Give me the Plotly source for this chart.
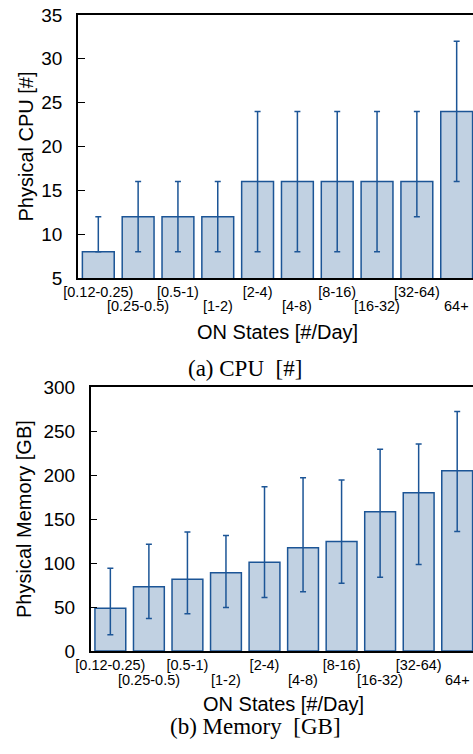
import plotly.graph_objects as go

# --- DATA ---
states = ["[0.12-0.25)", "[0.25-0.5)", "[0.5-1)", "[1-2)", "[2-4)",
          "[4-8)", "[8-16)", "[16-32)", "[32-64)", "64+"]

cpu_mid = [8, 12, 12, 12, 16, 16, 16, 16, 16, 24]
cpu_low = [8, 8, 8, 8, 8, 8, 8, 8, 12, 16]
cpu_high = [12, 16, 16, 16, 24, 24, 24, 24, 24, 32]

mem_mid = [48.5, 73, 81.5, 89, 101, 117.5, 124.5, 158.5, 180, 205]
mem_low = [18.5, 37, 42.5, 49.5, 61, 67.5, 77, 84, 98.5, 136]
mem_high = [94, 121.5, 135.5, 131.5, 187, 197, 194.5, 229.5, 235.5, 272.5]

W, H = 473, 754
FILL = "#c1d1e2"
EDGE = "#1c5596"
SANS = "Liberation Sans, Arial, sans-serif"
SERIF = "Liberation Serif, Times New Roman, serif"

pos = list(range(len(states)))
even_pos, even_lab = pos[0::2], states[0::2]
odd_pos, odd_lab = pos[1::2], states[1::2]


def bar_trace(mid, low, high, xa, ya):
    return go.Bar(
        x=pos, y=mid, width=0.8, xaxis=xa, yaxis=ya,
        marker=dict(color=FILL, line=dict(color=EDGE, width=1.5)),
        error_y=dict(type="data", symmetric=False,
                     array=[h - m for h, m in zip(high, mid)],
                     arrayminus=[m - l for m, l in zip(mid, low)],
                     color=EDGE, thickness=1.5, width=3),
        showlegend=False,
    )


fig = go.Figure()
fig.add_trace(bar_trace(cpu_mid, cpu_low, cpu_high, "x", "y"))
fig.add_trace(bar_trace(mem_mid, mem_low, mem_high, "x2", "y2"))

xr = [-0.51, 9.41]
xfont = dict(family=SANS, size=14.5, color="black")
# main x axes: frame lines + first row of labels
xcommon = dict(range=xr, tickvals=even_pos, ticktext=even_lab, ticks="",
               tickangle=0, automargin=False,
               showline=True, linecolor="black", linewidth=1.5, mirror=True,
               showgrid=False, zeroline=False, ticklabelstandoff=0,
               tickfont=xfont)
ycommon = dict(showline=True, linecolor="black", linewidth=1.5,
               ticks="inside", ticklen=7, tickcolor="black", tickwidth=1,
               showgrid=False, zeroline=False, ticklabelstandoff=10,
               automargin=False,
               tickfont=dict(family=SANS, size=19, color="black"))
# top-only tick marks at the bar centres
topticks = dict(range=xr, tickvals=pos, showticklabels=False, side="top",
                ticks="inside", ticklen=7, tickcolor="black", tickwidth=1,
                showgrid=False, zeroline=False, automargin=False)

d_top = [1 - 278 / H, 1 - 15 / H]
d_bot = [1 - 651 / H, 1 - 387.3 / H]

fig.update_layout(
    width=W, height=H,
    margin=dict(l=0, r=0, t=0, b=0),
    paper_bgcolor="white", plot_bgcolor="white",
    xaxis=dict(domain=[78 / W, 1], anchor="y", **xcommon),
    yaxis=dict(domain=d_top, anchor="x", range=[5, 35], dtick=5, **ycommon),
    xaxis2=dict(domain=[90.7 / W, 1], anchor="y2", **xcommon),
    yaxis2=dict(domain=d_bot, anchor="x2", range=[0, 300], dtick=50, **ycommon),
    xaxis3=dict(overlaying="x", anchor="y", **topticks),
    xaxis4=dict(overlaying="x2", anchor="y2", **topticks),
)

# second (staggered) row of category labels, placed on the x axes
for xref, row_y in (("x", 306), ("x2", 679.5)):
    for p, s in zip(odd_pos, odd_lab):
        fig.add_annotation(text=s, x=p, xref=xref, y=1 - row_y / H,
                           yref="paper", xanchor="center", yanchor="middle",
                           showarrow=False, font=xfont)

lab = dict(family=SANS, size=20, color="black")
cap = dict(family=SERIF, size=23, color="black")
texts = [
    ("ON States [#/Day]", 277.5, 332, 0, lab),
    ("ON States [#/Day]", 283.8, 704, 0, lab),
    ("Physical CPU [#]", 25, 146.5, -90, lab),
    ("Physical Memory [GB]", 24, 519, -90, lab),
    ("(a) CPU\u00a0 [#]", 245, 368.5, 0, cap),
    ("(b) Memory\u00a0 [GB]", 255.8, 726, 0, cap),
]
for txt, px, py, ang, f in texts:
    fig.add_annotation(text=txt, x=px / W, y=1 - py / H, textangle=ang,
                       xref="paper", yref="paper", xanchor="center",
                       yanchor="middle", showarrow=False, font=f)

fig.write_html("out.html", config={"displayModeBar": False},
               post_script="document.body.style.margin='0';"
                           "document.body.style.overflow='hidden';")
